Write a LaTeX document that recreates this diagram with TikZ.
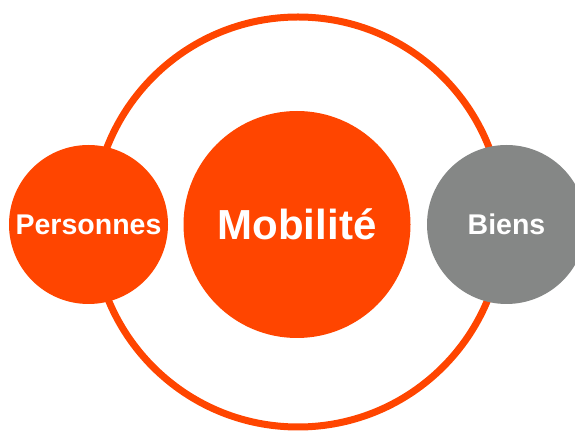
\documentclass[tikz,border=0pt]{standalone}
\usepackage{fontspec}
\setmainfont{Liberation Sans}
\usepackage{tikz}
\definecolor{orangevif}{HTML}{FF4500}
\definecolor{grismoyen}{HTML}{858786}

\begin{document}
\begin{tikzpicture}[x=1pt,y=1pt,
      every node/.style={circle,inner sep=0pt,text=white,font=\bfseries},
      disque/.style={fill=orangevif},
      petit/.style={minimum size=159pt,font=\bfseries\fontsize{28.5}{30}\selectfont},
      grand/.style={minimum size=227pt,font=\bfseries\fontsize{42}{44}\selectfont}]
    \clip (0,0) rectangle (575,433);
    \node (anneau) [draw=orangevif,line width=7pt,minimum size=410pt] at (298,211) {};
    \node (mobilite) [disque,grand] at (297,208.5) {Mobilité};
    \node (personnes) [disque,petit] at (88.5,208.5) {Personnes};
    \node (biens) [fill=grismoyen,petit] at (506.5,208.5) {Biens};
  \end{tikzpicture}
\end{document}
